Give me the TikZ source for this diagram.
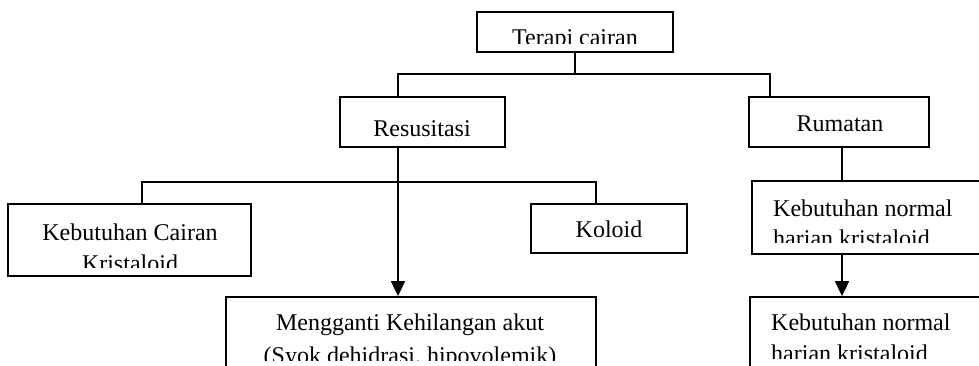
\documentclass[tikz,border=0pt]{standalone}
\usepackage{fontspec}
\setmainfont{Liberation Serif}
\usetikzlibrary{arrows.meta}
\begin{document}
\begin{tikzpicture}[x=1pt,y=-1pt,
  box/.style={draw, line width=1.8pt, inner sep=0pt, rectangle},
  txt/.style={inner sep=0pt, font=\fontsize{24}{27}\selectfont},
  conn/.style={line width=1.8pt},
  arr/.style={line width=1.8pt, -{Triangle[width=14pt,length=15pt]}}]
\clip (0,0) rectangle (979,365);
\fill[white] (0,0) rectangle (979,365);
% boxes
\node[box, minimum width=196pt, minimum height=40pt] (T) at (575,32) {};
\node[box, minimum width=165pt, minimum height=50pt] (R) at (422.5,122) {};
\node[box, minimum width=180pt, minimum height=50pt] (M) at (839,122) {};
\node[box, minimum width=243pt, minimum height=72pt] (KC) at (129.5,240) {};
\node[box, minimum width=156pt, minimum height=49pt] (KO) at (609,228.5) {};
\node[box, minimum width=248pt, minimum height=73pt] (N1) at (876,217.5) {};
\node[box, minimum width=250pt, minimum height=103pt] (N2) at (875,348.5) {};
\node[box, minimum width=370pt, minimum height=103pt] (MG) at (411,348.5) {};
% texts
\begin{scope}
  \clip (477,12) rectangle (673,43);
  \node[txt, anchor=base] (Tt) at (575,45) {Terapi cairan};
\end{scope}
\node[txt, anchor=base] (Rt) at (422,136) {Resusitasi};
\node[txt, anchor=base] (Mt) at (840,131) {Rumatan};
\node[txt, anchor=base] (KOt) at (609,237) {Koloid};
\node[txt, anchor=base] (KCa) at (130,240) {Kebutuhan Cairan};
\begin{scope}
  \clip (8,204) rectangle (251,267);
  \node[txt, anchor=base] (KCb) at (130,271) {Kristaloid};
\end{scope}
\node[txt, anchor=base west] (N1a) at (773,216) {Kebutuhan normal};
\begin{scope}
  \clip (752,181) rectangle (1000,242);
  \node[txt, anchor=base west] (N1b) at (773,246) {harian kristaloid};
\end{scope}
\node[txt, anchor=base west] (N2a) at (771,330) {Kebutuhan normal};
\begin{scope}
  \clip (750,297) rectangle (1000,358);
  \node[txt, anchor=base west] (N2b) at (771,361) {harian kristaloid};
\end{scope}
\node[txt, anchor=base] (MGa) at (410,330) {Mengganti Kehilangan akut};
\begin{scope}
  \clip (226,297) rectangle (596,360);
  \node[txt, anchor=base] (MGb) at (410,363) {(Syok dehidrasi, hipovolemik)};
\end{scope}
% connectors
\coordinate (a1) at (398,74);
\coordinate (a2) at (770,74);
\coordinate (b1) at (142,182);
\coordinate (b2) at (596,182);
\draw[conn] (T.south) -- (T.south |- a1);
\draw[conn] (R.north -| a1) |- (a2) -- (a2 |- M.north);
\draw[conn] (KC.north -| b1) |- (b2) -- (b2 |- KO.north);
\draw[arr] (R.south -| a1) -- (MG.north -| a1);
\coordinate (c1) at (842,150);
\draw[conn] (M.south -| c1) -- (N1.north -| c1);
\draw[arr] (N1.south -| c1) -- (N2.north -| c1);
\end{tikzpicture}
\end{document}
